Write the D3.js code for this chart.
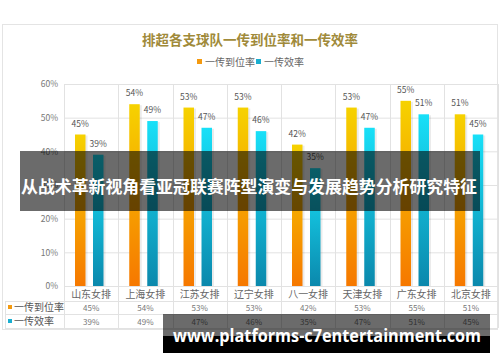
<!DOCTYPE html>
<html><head><meta charset="utf-8">
<script src="https://cdn.jsdelivr.net/npm/d3@7/dist/d3.min.js"></script>
<style>html,body{margin:0;padding:0;background:#fff;}svg{display:block;}</style>
</head><body>
<svg id="c" width="500" height="362"></svg>
<script>
const categories = ["山东女排","上海女排","江苏女排","辽宁女排","八一女排","天津女排","广东女排","北京女排"];
const seriesNames = ["一传到位率","一传效率"];
const arrival = [45,54,53,53,42,53,55,51];
const efficiency = [39,49,47,46,35,47,51,45];
const yTicks = [0,10,20,30,40,50,60];
const title = "排超各支球队一传到位率和一传效率";
const banner = "从战术革新视角看亚冠联赛阵型演变与发展趋势分析研究特征";
const site = "www.platforms-c7entertainment.com";

const svg = d3.select("#c");
const F = "'Noto Sans CJK SC','Noto Sans',sans-serif";
const defs = svg.append("defs");
function grad(id, c1, c2){
  const g = defs.append("linearGradient").attr("id",id).attr("x1",0).attr("y1",0).attr("x2",0).attr("y2",1);
  g.append("stop").attr("offset","0%").attr("stop-color",c1);
  g.append("stop").attr("offset","100%").attr("stop-color",c2);
}
grad("gO","#f6d200","#f67800");
grad("gT","#18e0f8","#0b88ac");
const colors = ["url(#gO)","url(#gT)"];
const solid = ["#f49a10","#1aaed0"];

// panel
svg.append("rect").attr("x",2.5).attr("y",24.5).attr("width",495).attr("height",305)
  .attr("fill","#fff").attr("stroke","#e4e4e4");

svg.append("text").attr("x",250).attr("y",45).attr("text-anchor","middle")
  .attr("font-family",F).attr("font-weight","bold").attr("font-size",13.5)
  .attr("fill","#a08a3a").text(title);

// legend
const lg = svg.append("g");
const lgX = [197, 256];
seriesNames.forEach((n,i)=>{
  lg.append("rect").attr("x",lgX[i]).attr("y",59).attr("width",5).attr("height",5).attr("fill",solid[i]);
  lg.append("text").attr("x",lgX[i]+8).attr("y",65.5).attr("font-family",F).attr("font-size",10)
    .attr("fill","#666").text(n);
});

const x = d3.scaleBand().domain(categories).range([64,498]);
const y = d3.scaleLinear().domain([0,60]).range([286,84]);
const xi = d3.scaleBand().domain([0,1]).range([11,39.5]).paddingInner(0.417);

// grid
const grid = svg.append("g");
grid.selectAll("line.h").data(yTicks).join("line")
  .attr("x1",64).attr("x2",498).attr("y1",d=>y(d)+0.5).attr("y2",d=>y(d)+0.5)
  .attr("stroke","#e2e2e2");
const vlines = categories.map(c=>x(c)).concat([x(categories[categories.length-1])+x.bandwidth()]);
grid.selectAll("line.v").data(vlines).join("line")
  .attr("x1",d=>Math.round(d)+0.5).attr("x2",d=>Math.round(d)+0.5).attr("y1",84).attr("y2",328)
  .attr("stroke","#e2e2e2");

// y axis
const yAxis = d3.axisLeft(y).tickValues(yTicks).tickFormat(d=>d+"%").tickSize(0).tickPadding(6);
const ya = svg.append("g").attr("transform","translate(64,0)").call(yAxis);
ya.select(".domain").remove();
ya.selectAll("text").attr("font-family",F).attr("font-size",8.5).attr("fill","#777");

// bars
const series = [arrival, efficiency];
series.forEach((vals,si)=>{
  const g = svg.append("g");
  g.selectAll("rect.s").data(vals).join("rect")
    .attr("x",(d,i)=>x(categories[i])+xi(si)+2).attr("y",d=>y(d)+1)
    .attr("width",xi.bandwidth()).attr("height",d=>y(0)-y(d)-1)
    .attr("fill","#000").attr("opacity",0.08);
  g.selectAll("rect.b").data(vals).join("rect")
    .attr("x",(d,i)=>x(categories[i])+xi(si)).attr("y",d=>y(d))
    .attr("width",xi.bandwidth()).attr("height",d=>y(0)-y(d))
    .attr("fill",colors[si]);
  g.selectAll("text").data(vals).join("text")
    .attr("x",(d,i)=>x(categories[i])+xi(si)+xi.bandwidth()/2).attr("y",d=>y(d)-8)
    .attr("text-anchor","middle").attr("font-family",F).attr("font-size",8.5).attr("fill","#555")
    .text(d=>d+"%");
});

// table
const tb = svg.append("g");
[301,314,328].forEach(yy=>{
  tb.append("line").attr("x1",5).attr("x2",498).attr("y1",yy+0.5).attr("y2",yy+0.5).attr("stroke","#e2e2e2");
});
tb.append("line").attr("x1",5.5).attr("x2",5.5).attr("y1",301).attr("y2",328).attr("stroke","#e2e2e2");
tb.selectAll("text.cat").data(categories).join("text")
  .attr("x",d=>x(d)+x.bandwidth()/2).attr("y",298).attr("text-anchor","middle")
  .attr("font-family",F).attr("font-size",10).attr("fill","#666").text(d=>d);
const rowY = [311, 325];
series.forEach((vals,si)=>{
  tb.append("rect").attr("x",8).attr("y",rowY[si]-6).attr("width",4).attr("height",4).attr("fill",solid[si]);
  tb.append("text").attr("x",14).attr("y",rowY[si]).attr("font-family",F).attr("font-size",10)
    .attr("fill","#555").text(seriesNames[si]);
  tb.selectAll("text.v"+si).data(vals).join("text")
    .attr("x",(d,i)=>x(categories[i])+x.bandwidth()/2).attr("y",rowY[si]-0.5).attr("text-anchor","middle")
    .attr("font-family",F).attr("font-size",8).attr("fill","#777").text(d=>d+"%");
});

// overlay banner
svg.append("rect").attr("x",20).attr("y",151).attr("width",460).attr("height",60).attr("fill","rgba(0,0,0,0.58)");
svg.append("text").attr("x",249).attr("y",193).attr("text-anchor","middle")
  .attr("font-family",F).attr("font-weight","bold").attr("font-size",17).attr("fill","#fff")
  .attr("textLength",456).attr("lengthAdjust","spacingAndGlyphs").text(banner);

// site banner
svg.append("rect").attr("x",163).attr("y",314).attr("width",327).attr("height",22).attr("fill","rgba(0,0,0,0.58)");
svg.append("rect").attr("x",163).attr("y",336).attr("width",327).attr("height",17).attr("fill","#000");
svg.append("text").attr("x",173).attr("y",342).attr("font-family","'Open Sans',sans-serif")
  .attr("font-weight","bold").attr("font-size",17).attr("fill","#fff")
  .attr("textLength",308).attr("lengthAdjust","spacingAndGlyphs").text(site);
</script>
</body></html>
